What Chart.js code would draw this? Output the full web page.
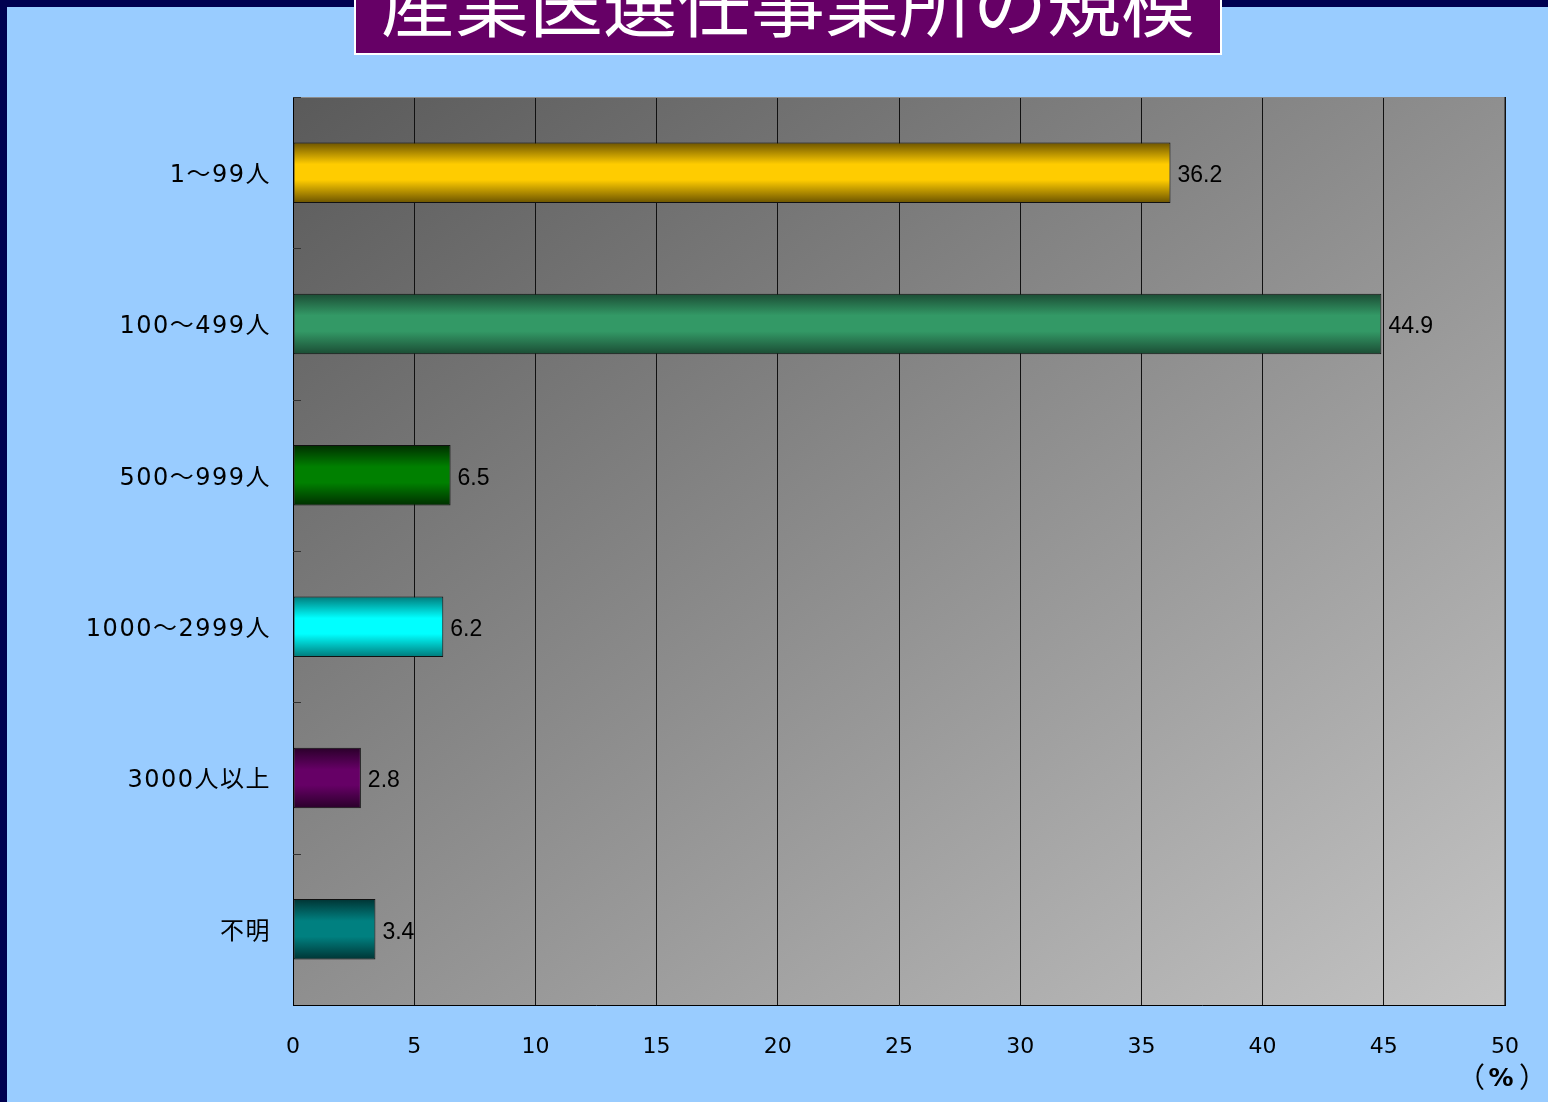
<!DOCTYPE html>
<html lang="ja">
<head>
<meta charset="utf-8">
<title>産業医選任事業所の規模</title>
<script src="https://cdn.jsdelivr.net/npm/chart.js@4.4.1/dist/chart.umd.min.js"></script>
<style>
  html, body { margin: 0; padding: 0; }
  body { width: 1548px; height: 1102px; position: relative; overflow: hidden; background: #99ccff; }
  #frameTop { position: absolute; left: 0; top: 0; width: 1548px; height: 7px; background: #000050; }
  #frameLeft { position: absolute; left: 0; top: 0; width: 7px; height: 1102px; background: #000050; }
  #chart { position: absolute; left: 0; top: 0; }
  #title {
    position: absolute; left: 354px; top: -40px; width: 864px; height: 91px;
    background: #660066; border: 2px solid #ffffff;
    color: #ffffff; font-family: "Noto Sans CJK JP", sans-serif; font-size: 74px;
    line-height: 74px; text-align: center; overflow: hidden;
  }
  #title span { display: block; padding-top: 0px; letter-spacing: 0px; }
</style>
</head>
<body>
<canvas id="chart" width="1548" height="1102"></canvas>
<div id="frameTop"></div>
<div id="frameLeft"></div>
<div id="title"><span>産業医選任事業所の規模</span></div>
<script>
document.addEventListener('DOMContentLoaded', function () {
    // Sizes of workplaces, share in percent
    const categories = ['1～99人', '100～499人', '500～999人', '1000～2999人', '3000人以上', '不明'];
    const shares = [36.2, 44.9, 6.5, 6.2, 2.8, 3.4];
    const xTicks = [0, 5, 10, 15, 20, 25, 30, 35, 40, 45, 50];

    // Bright centre and dark edge of each bar's shaded fill
    const barBright = ['#ffcc00', '#339966', '#008000', '#00ffff', '#660066', '#008080'];
    const barDark = ['#6b5300', '#1b4c34', '#002e00', '#007a7a', '#2a002a', '#003434'];

    const BAR_FRACTION = 0.4;

    function barFill(context) {
        const chart = context.chart;
        const yScale = chart.scales.y;
        if (!chart.chartArea || !yScale) return barBright[context.dataIndex];
        const band = (chart.chartArea.bottom - chart.chartArea.top) / categories.length;
        const mid = yScale.getPixelForValue(context.dataIndex);
        const half = band * BAR_FRACTION / 2;
        const g = chart.ctx.createLinearGradient(0, mid - half, 0, mid + half);
        const i = context.dataIndex;
        g.addColorStop(0, barDark[i]);
        g.addColorStop(0.36, barBright[i]);
        g.addColorStop(0.62, barBright[i]);
        g.addColorStop(1, barDark[i]);
        return g;
    }

    // Grey plot background running from the top-left to the bottom-right corner.
    // The category labels (drawn before the bars) get a little extra letter spacing.
    const plotBackground = {
        id: 'plotBackground',
        beforeDraw(chart) {
            const { ctx, chartArea: a } = chart;
            ctx.save();
            ctx.translate(a.left, a.top);
            ctx.scale(a.right - a.left, a.bottom - a.top);
            const g = ctx.createLinearGradient(0, 0, 1, 1);
            g.addColorStop(0, '#5a5a5a');
            g.addColorStop(1, '#c4c4c4');
            ctx.fillStyle = g;
            ctx.fillRect(0, 0, 1, 1);
            ctx.restore();
            ctx.letterSpacing = '1.5px';
        },
        beforeDatasetsDraw(chart) {
            chart.ctx.letterSpacing = '0px';
        },
        afterDraw(chart) {
            const { ctx, chartArea: a } = chart;
            ctx.save();
            // top and right edges of the plot
            ctx.lineWidth = 1;
            ctx.strokeStyle = '#8c8c8c';
            ctx.beginPath();
            ctx.moveTo(a.left, a.top + 0.5);
            ctx.lineTo(a.right, a.top + 0.5);
            ctx.stroke();
            ctx.strokeStyle = '#555555';
            ctx.beginPath();
            ctx.moveTo(a.right - 0.5, a.top);
            ctx.lineTo(a.right - 0.5, a.bottom);
            ctx.stroke();

            // short ticks between categories, inside the plot
            const yScale = chart.scales.y;
            ctx.strokeStyle = '#333333';
            for (let i = 0; i < categories.length; i++) {
                const y = Math.round(yScale.getPixelForValue(i - 0.5)) + 0.5;
                ctx.beginPath();
                ctx.moveTo(a.left, y);
                ctx.lineTo(a.left + 8, y);
                ctx.stroke();
            }

            // unit under the last tick
            const ux = chart.scales.x.getPixelForValue(50);
            ctx.fillStyle = '#000000';
            ctx.textBaseline = 'middle';
            ctx.font = '28px "Noto Sans CJK JP", sans-serif';
            ctx.textAlign = 'right';
            ctx.fillText('（', ux - 20, 1077);
            ctx.textAlign = 'left';
            ctx.fillText('）', ux + 14, 1077);
            ctx.font = 'bold 25px "DejaVu Sans", sans-serif';
            ctx.textAlign = 'center';
            ctx.fillText('%', ux - 4, 1079);
            ctx.restore();
        }
    };

    // Value written just past the end of each bar
    const valueLabels = {
        id: 'valueLabels',
        afterDatasetsDraw(chart) {
            const { ctx } = chart;
            const meta = chart.getDatasetMeta(0);
            ctx.save();
            ctx.fillStyle = '#000000';
            ctx.font = '23px "Liberation Sans", Arial, sans-serif';
            ctx.textAlign = 'left';
            ctx.textBaseline = 'middle';
            meta.data.forEach(function (bar, i) {
                ctx.fillText(shares[i].toFixed(1), bar.x + 7, bar.y + 3);
            });
            ctx.restore();
        }
    };

    const ctx = document.getElementById('chart').getContext('2d');
    new Chart(ctx, {
        type: 'bar',
        data: {
            labels: categories,
            datasets: [{
                data: shares,
                backgroundColor: barFill,
                borderColor: '#111111',
                borderWidth: 1,
                borderSkipped: false,
                categoryPercentage: 1,
                barPercentage: BAR_FRACTION
            }]
        },
        options: {
            indexAxis: 'y',
            responsive: false,
            animation: false,
            layout: { padding: { left: 0, top: 97, right: 43, bottom: 0 } },
            plugins: {
                legend: { display: false },
                tooltip: { enabled: false }
            },
            scales: {
                x: {
                    min: 0,
                    max: 50,
                    afterBuildTicks(scale) {
                        scale.ticks = xTicks.map(v => ({ value: v }));
                    },
                    afterFit(scale) { scale.height = 97; },
                    grid: { color: '#111111', lineWidth: 1, drawTicks: false },
                    border: { display: true, color: '#000000', width: 1 },
                    ticks: {
                        z: 1,
                        padding: 29,
                        color: '#000000',
                        font: { family: '"DejaVu Sans", "Noto Sans CJK JP", sans-serif', size: 22 }
                    }
                },
                y: {
                    afterFit(scale) { scale.width = 293; },
                    grid: { display: false, drawTicks: false },
                    border: { display: true, color: '#000000', width: 1 },
                    ticks: {
                        padding: 22,
                        labelOffset: 3,
                        color: '#000000',
                        font: { family: '"DejaVu Sans", "Noto Sans CJK JP", sans-serif', size: 24 }
                    }
                }
            }
        },
        plugins: [plotBackground, valueLabels]
    });
});
</script>
</body>
</html>
